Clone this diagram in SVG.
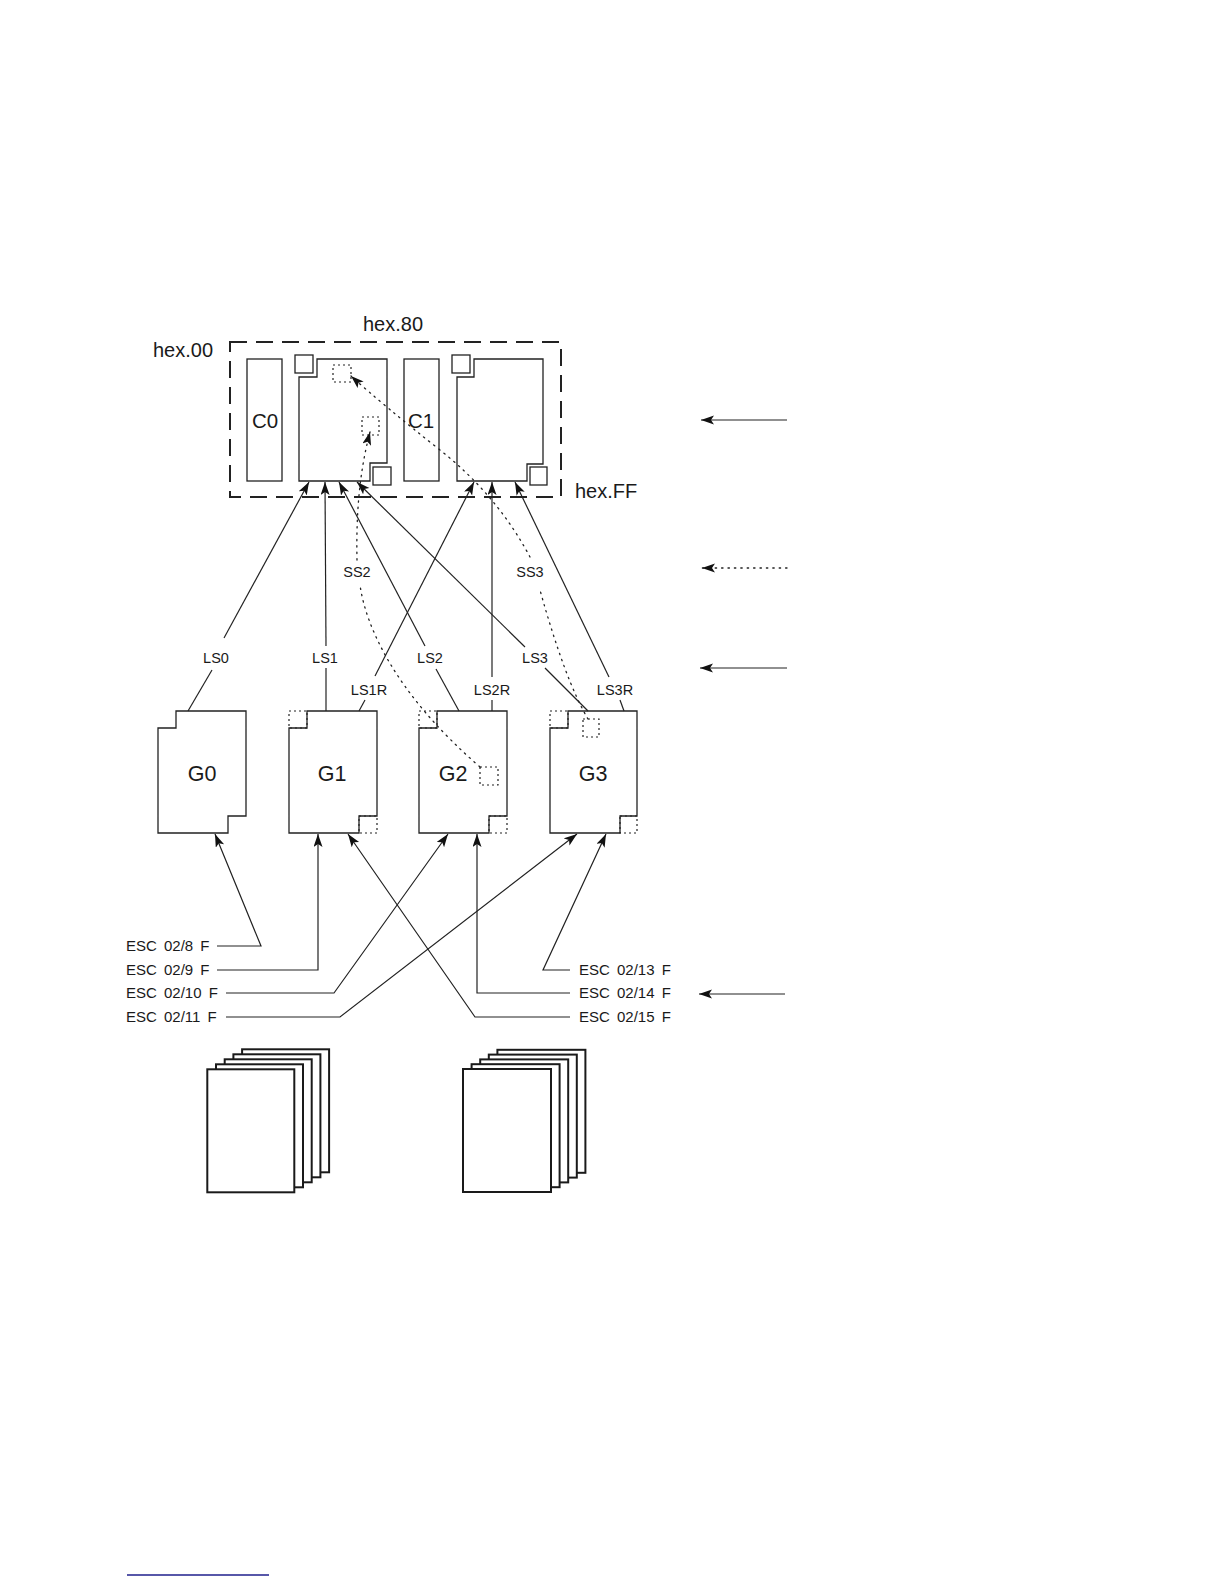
<svg xmlns="http://www.w3.org/2000/svg" width="1224" height="1584" viewBox="0 0 1224 1584">
<style>
text{font-family:"Liberation Sans",Arial,sans-serif;fill:#1a1a1a}
.hex{font-size:20px}
.big{font-size:21.5px;text-anchor:middle}
.ls{font-size:14.5px;text-anchor:middle}
.esc{font-size:15px;word-spacing:3px}
.box{fill:#fff;stroke:#222;stroke-width:1.3}
.sq{fill:#fff;stroke:#222;stroke-width:1.3}
.dsq{fill:none;stroke:#222;stroke-width:1.2;stroke-dasharray:2 3}
.ln{fill:none;stroke:#222;stroke-width:1.2}
.arr{fill:none;stroke:#222;stroke-width:1.2;marker-end:url(#ah)}
.dot{fill:none;stroke:#222;stroke-width:1.3;stroke-dasharray:1.4 5;stroke-linecap:round}
.page{fill:#fff;stroke:#1a1a1a;stroke-width:2}
</style>
<defs>
<marker id="ah" markerUnits="userSpaceOnUse" markerWidth="14" markerHeight="10" refX="13" refY="4.5" orient="auto">
<path d="M0,0 L13,4.5 L0,9 L3,4.5 z" fill="#111"/>
</marker>
</defs>
<rect width="1224" height="1584" fill="#fff"/>

<g id="codetable">
<rect x="230" y="342" width="331" height="155" fill="none" stroke="#222" stroke-width="2" stroke-dasharray="17 9"/>
<text class="hex" x="363" y="331">hex.80</text>
<text class="hex" x="153" y="357">hex.00</text>
<text class="hex" x="575" y="498">hex.FF</text>
</g>
<g id="C0">
<rect class="box" x="247" y="359" width="35" height="122"/>
<text class="big" x="265" y="428" style="font-size:20.5px">C0</text>
</g>
<g id="GL">
<path class="box" d="M317,359 H387 V463 H370 V481 H299 V377 H317 Z"/>
<rect class="sq" x="295" y="355" width="18" height="18"/>
<rect class="sq" x="373" y="467" width="18" height="18"/>
<rect class="dsq" x="333" y="365" width="18" height="17"/>
<rect class="dsq" x="362" y="417" width="17" height="18"/>
</g>
<g id="C1">
<rect class="box" x="404" y="359" width="35" height="122"/>
<text class="big" x="421" y="428" style="font-size:20.5px">C1</text>
</g>
<g id="GR">
<path class="box" d="M474,359 H543 V464 H527 V481 H457 V377 H474 Z"/>
<rect class="sq" x="452" y="355" width="18" height="18"/>
<rect class="sq" x="530" y="467" width="17" height="18"/>
</g>

<g id="G0">
<path class="box" d="M176,711 H246 V816 H228 V833 H158 V728 H176 Z"/>
<text class="big" x="202" y="781">G0</text>
</g>
<g id="G1">
<path class="box" d="M307,711 H377 V816 H359 V833 H289 V728 H307 Z"/>
<rect class="dsq" x="289" y="711" width="18" height="17"/>
<rect class="dsq" x="359" y="816" width="18" height="17"/>
<text class="big" x="332" y="781">G1</text>
</g>
<g id="G2">
<path class="box" d="M437,711 H507 V816 H489 V833 H419 V728 H437 Z"/>
<rect class="dsq" x="419" y="711" width="18" height="17"/>
<rect class="dsq" x="489" y="816" width="18" height="17"/>
<rect class="dsq" x="480" y="767" width="18" height="18"/>
<text class="big" x="453" y="781">G2</text>
</g>
<g id="G3">
<path class="box" d="M568,711 H637 V816 H620 V833 H550 V728 H568 Z"/>
<rect class="dsq" x="550" y="711" width="18" height="17"/>
<rect class="dsq" x="620" y="816" width="17" height="17"/>
<rect class="dsq" x="583" y="719" width="16" height="18"/>
<text class="big" x="593" y="781">G3</text>
</g>

<g id="stack-left">
<rect class="page" x="242.1" y="1049.3" width="87" height="123"/>
<rect class="page" x="233.4" y="1054.3" width="87" height="123"/>
<rect class="page" x="224.7" y="1059.3" width="87" height="123"/>
<rect class="page" x="216" y="1064.3" width="87" height="123"/>
<rect class="page" x="207.3" y="1069.3" width="87" height="123"/>
</g>
<g id="stack-right">
<rect class="page" x="497.4" y="1049.8" width="88" height="123"/>
<rect class="page" x="488.8" y="1054.6" width="88" height="123"/>
<rect class="page" x="480.2" y="1059.4" width="88" height="123"/>
<rect class="page" x="471.6" y="1064.2" width="88" height="123"/>
<rect class="page" x="463" y="1069" width="88" height="123"/>
</g>

<g id="labels">
<text class="ls" x="216" y="663">LS0</text>
<text class="ls" x="325" y="663">LS1</text>
<text class="ls" x="430" y="663">LS2</text>
<text class="ls" x="535" y="663">LS3</text>
<text class="ls" x="369" y="695">LS1R</text>
<text class="ls" x="492" y="695">LS2R</text>
<text class="ls" x="615" y="695">LS3R</text>
<text class="ls" x="357" y="577">SS2</text>
<text class="ls" x="530" y="577">SS3</text>
<text class="esc" x="126" y="951">ESC 02/8 F</text>
<text class="esc" x="126" y="975">ESC 02/9 F</text>
<text class="esc" x="126" y="998">ESC 02/10 F</text>
<text class="esc" x="126" y="1022">ESC 02/11 F</text>
<text class="esc" x="579" y="975">ESC 02/13 F</text>
<text class="esc" x="579" y="998">ESC 02/14 F</text>
<text class="esc" x="579" y="1022">ESC 02/15 F</text>
</g>

<g id="connectors">
<path class="arr" d="M224,638 L309,482"/>
<path class="ln" d="M212,670 L188,711"/>
<path class="arr" d="M326,646 L325,482"/>
<path class="ln" d="M326,668 L326,711"/>
<path class="arr" d="M425,646 L339,482"/>
<path class="ln" d="M436,669 L459,711"/>
<path class="arr" d="M525,647 L357,482"/>
<path class="ln" d="M545,668 L588,711"/>
<path class="arr" d="M375,676 L474,482"/>
<path class="ln" d="M365,700 L359,711"/>
<path class="arr" d="M492,677 L492,482"/>
<path class="ln" d="M492,700 L492,711"/>
<path class="arr" d="M609,677 L515,482"/>
<path class="ln" d="M620,700 L624,711"/>

<path class="dot" d="M480,767 Q420,715 388,660 Q365,620 360,585"/>
<path class="dot" d="M357,560 C356,510 360,470 370,432" marker-end="url(#ah)"/>
<path class="dot" d="M588,719 Q565,680 540,590"/>
<path class="dot" d="M530,557 Q497,495 440,450 Q383,405 351,376" marker-end="url(#ah)"/>

<path class="arr" d="M217,946 H261 L215,834"/>
<path class="arr" d="M217,970 H318 V834"/>
<path class="arr" d="M226,993 H334 L448,834"/>
<path class="arr" d="M226,1017 H340 L577,834"/>
<path class="arr" d="M570,970 H543 L606,834"/>
<path class="arr" d="M570,993 H477 V834"/>
<path class="arr" d="M570,1017 H475 L348,834"/>

<path class="arr" d="M787,420 H701"/>
<path class="dot" d="M787,568 H702" marker-end="url(#ah)"/>
<path class="arr" d="M787,668 H700"/>
<path class="arr" d="M785,994 H699"/>
</g>
<line x1="127" y1="1575" x2="269" y2="1575" stroke="#1f1f8c" stroke-width="1.6"/>
</svg>
